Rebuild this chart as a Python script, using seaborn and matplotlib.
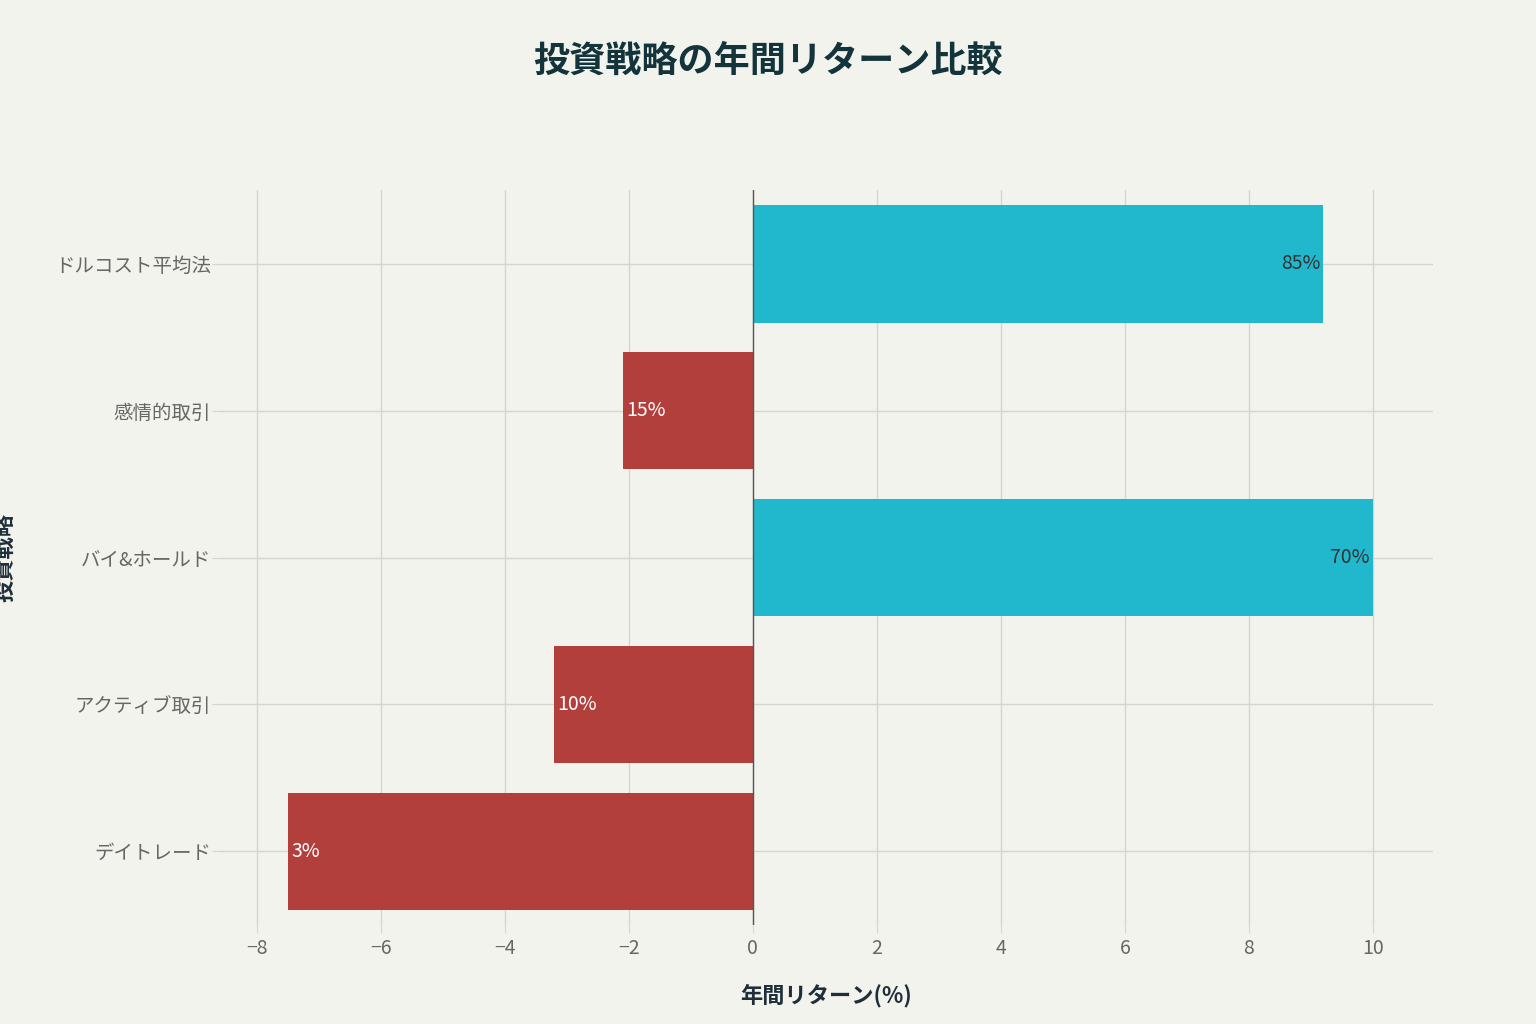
import matplotlib
matplotlib.use("Agg")
import matplotlib.pyplot as plt
import seaborn as sns
import pandas as pd

plt.rcParams['font.family'] = 'Noto Sans CJK JP'

# data
strategies = ['ドルコスト平均法', '感情的取引', 'バイ&ホールド', 'アクティブ取引', 'デイトレード']
returns = [9.2, -2.1, 10.0, -3.2, -7.5]
success = ['85%', '15%', '70%', '10%', '3%']

df = pd.DataFrame({'strategy': strategies, 'ret': returns, 'label': success})
df['sign'] = ['pos' if r >= 0 else 'neg' for r in df['ret']]

bg = '#F3F3EE'
palette = {'pos': '#21B8CD', 'neg': '#B33F3D'}

fig = plt.figure(figsize=(15.36, 10.24), dpi=100, facecolor=bg)
ax = fig.add_axes([0.143, 0.097, 0.79, 0.717])
ax.set_facecolor(bg)

sns.barplot(data=df, x='ret', y='strategy', hue='sign', palette=palette,
            orient='h', dodge=False, legend=False, width=0.8, saturation=1,
            ax=ax, zorder=3)

# labels inside bar ends
for i, row in df.iterrows():
    if row['ret'] >= 0:
        ax.text(row['ret'] - 0.05, i, row['label'], ha='right', va='center',
                fontsize=14, color='#333333', zorder=4)
    else:
        ax.text(row['ret'] + 0.05, i, row['label'], ha='left', va='center',
                fontsize=14, color='white', zorder=4)

ax.axvline(0, color='#555555', lw=1, zorder=4)
ax.set_xlim(-8.6, 10.97)
ax.set_xticks(range(-8, 11, 2))
ax.set_xticklabels([str(t).replace('-', '−') for t in range(-8, 11, 2)])
ax.grid(True, color='#D5D5D0', lw=1, zorder=0)
ax.tick_params(axis='both', length=6, color='#D5D5D0', labelsize=14, labelcolor='#666666')
ax.tick_params(axis='y', pad=0)
for s in ax.spines.values():
    s.set_visible(False)

ax.set_xlabel('年間リターン(%)', fontsize=16, fontweight='bold', color='#1F2F3A', labelpad=18)
ax.set_ylabel('投資戦略', fontsize=16, fontweight='bold', color='#1F2F3A', labelpad=28)
fig.text(0.5, 0.94, '投資戦略の年間リターン比較', ha='center', va='center',
         fontsize=26, fontweight='bold', color='#13343B')

fig.savefig('out.png', dpi=100, facecolor=bg)
